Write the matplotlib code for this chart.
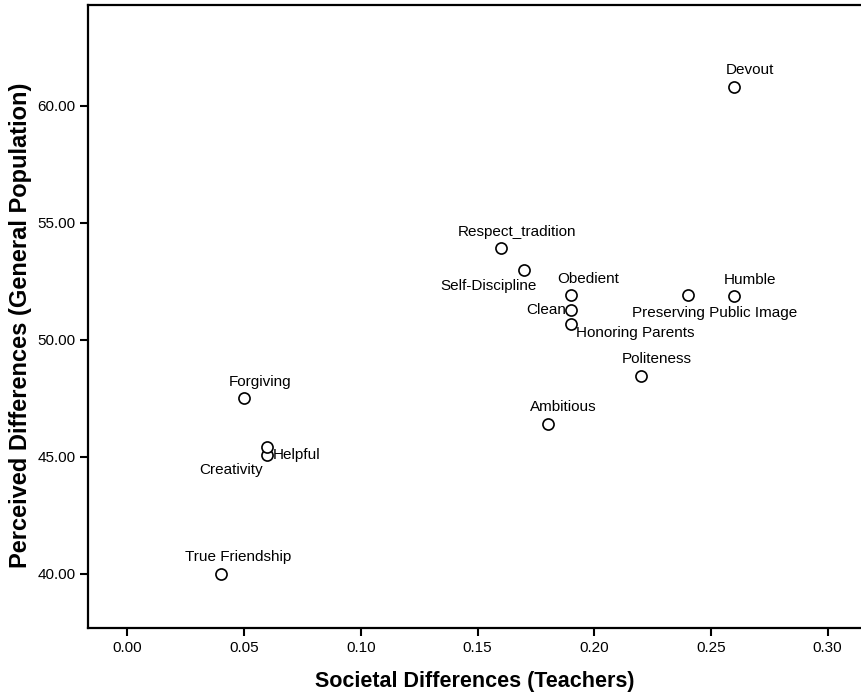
import matplotlib
matplotlib.use("Agg")
import matplotlib.pyplot as plt
from matplotlib.ticker import FormatStrFormatter

plt.rcParams['font.family'] = ['Liberation Sans', 'DejaVu Sans']

labels = ["Devout", "Respect_tradition", "Self-Discipline", "Obedient", "Clean",
          "Honoring Parents", "Preserving Public Image", "Humble", "Politeness",
          "Ambitious", "Forgiving", "Creativity", "Helpful", "True Friendship"]
societal = [0.26, 0.16, 0.17, 0.19, 0.19, 0.19, 0.24, 0.26, 0.22, 0.18, 0.05, 0.06, 0.06, 0.04]
perceived = [60.80, 53.92, 52.98, 51.92, 51.27, 50.67, 51.92, 51.87, 48.46, 46.41,
             47.52, 45.08, 45.43, 40.00]

# label placement (pixel offsets from the point, x right / y up) and alignment
label_style = {
    "Devout": ((16, 17), "center", "center"),
    "Respect_tradition": ((16, 16), "center", "center"),
    "Self-Discipline": ((-36, -16), "center", "center"),
    "Obedient": ((17, 16), "center", "center"),
    "Clean": ((-5, 0), "right", "center"),
    "Honoring Parents": ((5, -9), "left", "center"),
    "Preserving Public Image": ((27, -18), "center", "center"),
    "Humble": ((16, 16), "center", "center"),
    "Politeness": ((16, 17), "center", "center"),
    "Ambitious": ((16, 17), "center", "center"),
    "Forgiving": ((16, 16), "center", "center"),
    "Creativity": ((-36, -15), "center", "center"),
    "Helpful": ((5, -8), "left", "center"),
    "True Friendship": ((17, 17), "center", "center"),
}

fig = plt.figure(figsize=(8.61, 6.95), dpi=100)
ax = fig.add_axes([88/861, 1 - 628/695, 1 - 88/861, (628 - 5)/695])

ax.scatter(societal, perceived, s=64, facecolors='white', edgecolors='black',
           linewidths=1.2, zorder=3)

for lab, x, y in zip(labels, societal, perceived):
    (dx, dy), ha, va = label_style[lab]
    ax.annotate(lab, (x, y), xytext=(dx, dy), textcoords='offset pixels',
                ha=ha, va=va, fontsize=11, color='black')

ax.set_xlim(-0.0169, 0.3143)
ax.set_ylim(37.69, 64.30)
ax.set_xticks([0.00, 0.05, 0.10, 0.15, 0.20, 0.25, 0.30])
ax.set_yticks([40, 45, 50, 55, 60])
ax.xaxis.set_major_formatter(FormatStrFormatter('%.2f'))
ax.yaxis.set_major_formatter(FormatStrFormatter('%.2f'))
ax.tick_params(axis='both', direction='out', length=6, width=1.5, labelsize=11, pad=3)

for side in ['left', 'bottom', 'top']:
    ax.spines[side].set_linewidth(1.6)
ax.spines['right'].set_visible(False)

ax.set_xlabel("Societal Differences (Teachers)", fontsize=15.5, fontweight='bold', labelpad=12)
ax.set_ylabel("Perceived Differences (General Population)", fontsize=17, fontweight='bold')
ax.yaxis.set_label_coords(-0.072, 0.486)

fig.savefig("out.png", dpi=100)
